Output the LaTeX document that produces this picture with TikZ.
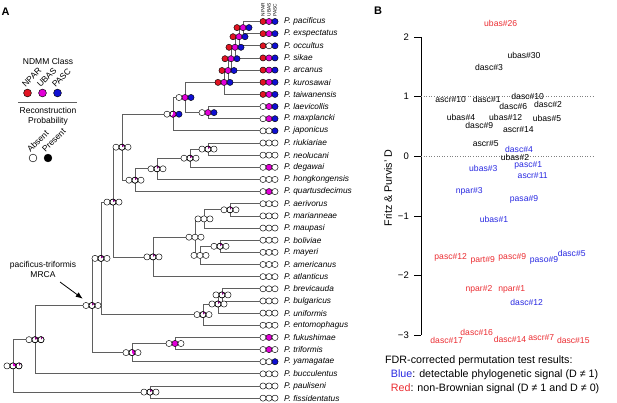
\documentclass[tikz,border=0pt]{standalone}
\usepackage{fontspec}
\setmainfont{Liberation Sans}
\usetikzlibrary{arrows.meta,calc}
\definecolor{npar}{RGB}{225,20,35}
\definecolor{ubas}{RGB}{225,0,215}
\definecolor{pasc}{RGB}{15,15,210}
\definecolor{tred}{RGB}{235,45,50}
\definecolor{tblue}{RGB}{40,40,225}
\definecolor{treeg}{RGB}{95,95,95}
\colorlet{pm}{ubas!60!black}
\newcommand{\tric}[4]{%
  \draw[circ,fill=#2] ([xshift=-6pt]#1) circle (3.1pt);
  \draw[circ,fill=#3] (#1) circle (3.1pt);
  \draw[circ,fill=#4] ([xshift=6pt]#1) circle (3.1pt);}
\newcommand{\piec}[4]{%
  \fill[#4] ([xshift=#2]#1) -- ++(90:3.1pt) arc[start angle=90,end angle={90-#3},radius=3.1pt] -- cycle;
  \draw[circ] ([xshift=#2]#1) circle (3.1pt);}
\begin{document}
\begin{tikzpicture}[x=1pt,y=-1pt,
  edge/.style={draw=treeg,line width=0.75pt},
  circ/.style={draw=black,line width=0.45pt},
  sp/.style={font=\fontsize{8.3}{10}\selectfont\itshape,anchor=west,inner sep=0pt},
  lab/.style={font=\fontsize{8.6}{10}\selectfont,inner sep=0pt},
  lgd/.style={font=\fontsize{8.5}{10}\selectfont,inner sep=0pt,align=center},
  hdr/.style={font=\fontsize{4.8}{5}\selectfont,rotate=90,anchor=west,inner sep=0pt},
  rot/.style={font=\fontsize{8.5}{10}\selectfont,rotate=45,anchor=base west,inner sep=0pt},
  tick/.style={font=\fontsize{9.5}{10}\selectfont,anchor=east,inner sep=0pt},
  big/.style={font=\fontsize{10.7}{13}\selectfont,anchor=west,inner sep=0pt},
  panel/.style={font=\fontsize{11}{13}\selectfont\bfseries,inner sep=0pt}]
\useasboundingbox (0,0) rectangle (617,403);

% ---------------- Panel A ----------------
\node[panel] (pA) at (5.5,11.5) {A};

% tips
\foreach \i/\nm/\a/\b/\c in {
 0/pacificus/npar/ubas/pasc, 1/exspectatus/npar/ubas/pasc, 2/occultus/npar/white/pasc,
 3/sikae/npar/ubas/pasc, 4/arcanus/npar/ubas/pasc, 5/kurosawai/npar/ubas/pasc,
 6/taiwanensis/npar/ubas/pasc, 7/laevicollis/white/ubas/pasc, 8/maxplancki/white/ubas/pasc,
 9/japonicus/white/white/pasc, 10/riukiariae/white/white/white, 11/neolucani/white/white/white,
 12/degawai/white/ubas/white, 13/hongkongensis/white/white/white, 14/quartusdecimus/white/ubas/white,
 15/aerivorus/white/white/white, 16/marianneae/white/white/white, 17/maupasi/white/white/white,
 18/boliviae/white/white/white, 19/mayeri/white/white/white, 20/americanus/white/white/white,
 21/atlanticus/white/white/white, 22/brevicauda/white/white/white, 23/bulgaricus/white/white/white,
 24/uniformis/white/white/white, 25/entomophagus/white/white/white, 26/fukushimae/white/ubas/white,
 27/triformis/white/ubas/white, 28/yamagatae/white/white/pasc, 29/bucculentus/white/white/white,
 30/pauliseni/white/white/white, 31/fissidentatus/white/white/white}{
  \coordinate (t\i) at (260,{21.5+12.15*\i});
  \draw[circ,fill=\a] ([xshift=3pt]t\i) circle (3.1pt);
  \draw[circ,fill=\b] ([xshift=9pt]t\i) circle (3.1pt);
  \draw[circ,fill=\c] ([xshift=15pt]t\i) circle (3.1pt);
  \node[sp] (s\i) at (284,{21.5+12.15*\i}) {P. \nm};
}
\node[hdr] (h1) at (263,16.5) {NPAR};
\node[hdr] (h2) at (269,16.5) {UBAS};
\node[hdr] (h3) at (275,16.5) {PASC};

% internal nodes
\coordinate (n1) at (243,27.6);
\coordinate (n2) at (239,36.7);
\coordinate (n3) at (235,47.3);
\coordinate (n4) at (231,58.7);
\coordinate (n5) at (228,70.5);
\coordinate (n6) at (224,82.4);
\coordinate (nLM) at (208,112.6);
\coordinate (n7) at (185,97.5);
\coordinate (n8) at (173,114.2);
\coordinate (nRN) at (208,149.1);
\coordinate (nRND) at (190,158.2);
\coordinate (nRNDH) at (157,168.8);
\coordinate (nQ) at (135,180.2);
\coordinate (n9) at (122,147.2);
\coordinate (nAM) at (230,209.8);
\coordinate (nAMM) at (204,218.9);
\coordinate (nBM) at (220,246.3);
\coordinate (nBMA) at (200,255.4);
\coordinate (nAer) at (195,237.2);
\coordinate (nAtl) at (153,256.9);
\coordinate (n10) at (113,202.1);
\coordinate (nBB) at (222,294.9);
\coordinate (nBBU) at (218,304.0);
\coordinate (nBBUE) at (203,314.6);
\coordinate (n11) at (101,258.4);
\coordinate (nFT) at (175,343.5);
\coordinate (nFTY) at (132,352.6);
\coordinate (n12) at (92,305.5);
\coordinate (n13) at (35,339.7);
\coordinate (nPF) at (150,392.1);
\coordinate (root) at (13,365.9);

% branches
\draw[edge] (n1)|-(t0) (n1)|-(t1) (n2)|-(n1) (n2)|-(t2) (n3)|-(n2) (n3)|-(t3)
  (n4)|-(n3) (n4)|-(t4) (n5)|-(n4) (n5)|-(t5) (n6)|-(n5) (n6)|-(t6)
  (nLM)|-(t7) (nLM)|-(t8) (n7)|-(n6) (n7)|-(nLM) (n8)|-(n7) (n8)|-(t9)
  (nRN)|-(t10) (nRN)|-(t11) (nRND)|-(nRN) (nRND)|-(t12) (nRNDH)|-(nRND) (nRNDH)|-(t13)
  (nQ)|-(nRNDH) (nQ)|-(t14) (n9)|-(n8) (n9)|-(nQ)
  (nAM)|-(t15) (nAM)|-(t16) (nAMM)|-(nAM) (nAMM)|-(t17) (nBM)|-(t18) (nBM)|-(t19)
  (nBMA)|-(nBM) (nBMA)|-(t20) (nAer)|-(nAMM) (nAer)|-(nBMA) (nAtl)|-(nAer) (nAtl)|-(t21)
  (n10)|-(n9) (n10)|-(nAtl)
  (nBB)|-(t22) (nBB)|-(t23) (nBBU)|-(nBB) (nBBU)|-(t24) (nBBUE)|-(nBBU) (nBBUE)|-(t25)
  (n11)|-(n10) (n11)|-(nBBUE)
  (nFT)|-(t26) (nFT)|-(t27) (nFTY)|-(nFT) (nFTY)|-(t28) (n12)|-(n11) (n12)|-(nFTY)
  (n13)|-(n12) (n13)|-(t29) (nPF)|-(t30) (nPF)|-(t31) (root)|-(n13) (root)|-(nPF);

% node state symbols
\foreach \n in {n1,n2,n3,n4,n5,n6}{\tric{\n}{npar}{ubas}{pasc}}
\tric{n7}{white}{ubas}{pasc}
\tric{nLM}{white}{ubas}{pasc}
\tric{n8}{white}{white}{pasc}\piec{n8}{0pt}{220}{ubas}
\tric{nFT}{white}{ubas}{white}
\tric{nFTY}{white}{white}{white}\piec{nFTY}{0pt}{150}{ubas}
\foreach \n in {nAMM,nBMA,nAer}{\tric{\n}{white}{white}{white}}
\foreach \n/\ang in {n9/60,n10/60,n11/60,n12/60,nRN/50,nRND/60,nRNDH/50,nQ/50,nAM/40,
  nBM/50,nAtl/50,nBB/50,nBBU/50,nBBUE/50,nPF/60}{\tric{\n}{white}{white}{white}\piec{\n}{0pt}{\ang}{pm}}
\tric{n13}{white}{white}{white}\piec{n13}{0pt}{70}{pm}\piec{n13}{6pt}{40}{pm}
\tric{root}{white}{white}{white}\piec{root}{0pt}{100}{ubas}\piec{root}{6pt}{40}{pm}

% MRCA annotation
\node[lgd] (mrca) at (43,269.5) {pacificus-triformis\\MRCA};
\coordinate (arrs) at (60,282);
\draw[-{Latex[length=7pt,width=5.5pt]},line width=0.8pt,shorten >=11.5pt] (arrs) -- (n12);

% legend
\node[lgd] (ndmm) at (48,61) {NDMM Class};
\coordinate (c1) at (27.5,93);
\coordinate (c2) at (42.5,93);
\coordinate (c3) at (57.5,93);
\draw[circ,fill=npar] (c1) circle (3.9pt);
\draw[circ,fill=ubas] (c2) circle (3.9pt);
\draw[circ,fill=pasc] (c3) circle (3.9pt);
\node[rot] (r1) at (25.5,88) {NPAR};
\node[rot] (r2) at (40.5,88) {UBAS};
\node[rot] (r3) at (55.5,88) {PASC};
\coordinate (sl) at (18,102);
\coordinate (sr) at (77,102);
\draw[treeg,line width=0.7pt] (sl) -- (sr);
\node[lgd] (recon) at (48,116.5) {Reconstruction\\Probability};
\coordinate (c4) at (33,158);
\coordinate (c5) at (48,158);
\draw[circ,fill=white] (c4) circle (3.9pt);
\draw[circ,fill=black] (c5) circle (3.9pt);
\node[rot] (r4) at (30.5,153) {Absent};
\node[rot] (r5) at (45.5,153) {Present};

% ---------------- Panel B ----------------
\node[panel] (pB) at (378,10.5) {B};
\coordinate (ax0) at (421,37.1);
\coordinate (ax1) at (421,335.1);
\draw[line width=0.8pt] (ax0) -- (ax1);
\foreach \v/\t in {2/2,1/1,0/0,-1/−1,-2/−2,-3/−3}{
  \coordinate (tk\v) at (421,{156.3-59.6*\v});
  \draw[line width=0.8pt] (tk\v) -- ++(-7,0);
  \node[tick] (tl\v) at ([xshift=-12pt]tk\v) {\t};
}
\coordinate (d1) at (593,96.7);
\coordinate (d0) at (593,156.3);
\draw[gray,dotted,line width=0.6pt] (tk1) -- (d1) (tk0) -- (d0);
\node[font=\fontsize{10.7}{12}\selectfont,rotate=90,inner sep=0pt] (ylab) at (388,188) {Fritz \& Purvis' D};

\node[lab,text=tred] (b1) at (500.7,23.3) {ubas\#26};
\node[lab] (b2) at (524,55.7) {ubas\#30};
\node[lab] (b3) at (489,67.3) {dasc\#3};
\node[lab] (b4) at (450.7,99.3) {ascr\#10};
\node[lab] (b5) at (486.7,99) {dasc\#1};
\node[lab] (b6) at (527.7,96) {dasc\#10};
\node[lab] (b7) at (513.3,106) {dasc\#6};
\node[lab] (b8) at (548,104) {dasc\#2};
\node[lab] (b9) at (461,117.7) {ubas\#4};
\node[lab] (b10) at (505.7,117.7) {ubas\#12};
\node[lab] (b11) at (547,118.7) {ubas\#5};
\node[lab] (b12) at (479.3,125.7) {dasc\#9};
\node[lab] (b13) at (518.3,130) {ascr\#14};
\node[lab] (b14) at (485.7,143.3) {ascr\#5};
\node[lab,text=tblue] (b15) at (519,149) {dasc\#4};
\node[lab] (b16) at (515,157.3) {ubas\#2};
\node[lab,text=tblue] (b17) at (528.3,165.7) {pasc\#1};
\node[lab,text=tblue] (b18) at (483.3,168.3) {ubas\#3};
\node[lab,text=tblue] (b19) at (532.7,176) {ascr\#11};
\node[lab,text=tblue] (b20) at (469.3,191) {npar\#3};
\node[lab,text=tblue] (b21) at (524,199.3) {pasa\#9};
\node[lab,text=tblue] (b22) at (494,219) {ubas\#1};
\node[lab,text=tred] (b23) at (450.7,257) {pasc\#12};
\node[lab,text=tred] (b24) at (482.7,260.7) {part\#9};
\node[lab,text=tred] (b25) at (512.3,257) {pasc\#9};
\node[lab,text=tblue] (b26) at (544,260.7) {paso\#9};
\node[lab,text=tblue] (b27) at (571.7,253.3) {dasc\#5};
\node[lab,text=tred] (b28) at (479,289.3) {npar\#2};
\node[lab,text=tred] (b29) at (511.7,289.3) {npar\#1};
\node[lab,text=tblue] (b30) at (526.7,302.3) {dasc\#12};
\node[lab,text=tred] (b31) at (446.7,340) {dasc\#17};
\node[lab,text=tred] (b32) at (476.7,332.7) {dasc\#16};
\node[lab,text=tred] (b33) at (510,339) {dasc\#14};
\node[lab,text=tred] (b34) at (541.3,337.3) {ascr\#7};
\node[lab,text=tred] (b35) at (573.3,340.7) {dasc\#15};

\node[big] (f1) at (385,360.7) {FDR-corrected permutation test results:};
\node[big] (f2) at (390.7,375) {\textcolor{tblue}{Blue}: detectable phylogenetic signal (D ≠ 1)};
\node[big] (f3) at (390.7,388.3) {\textcolor{tred}{Red}: non-Brownian signal (D ≠ 1 and D ≠ 0)};
\end{tikzpicture}
\end{document}
